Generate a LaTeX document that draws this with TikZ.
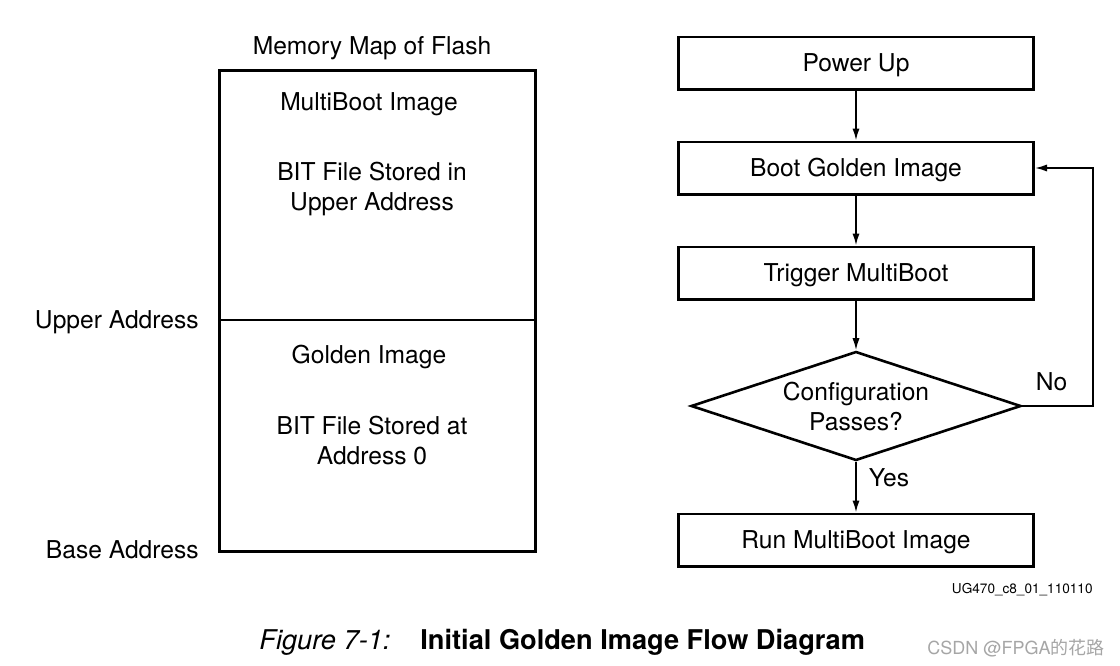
\documentclass[tikz,border=0pt]{standalone}
\usepackage{fontspec}
\setmainfont{TeX Gyre Heros}
\newfontfamily\cjkfont{Noto Sans CJK SC}
\usetikzlibrary{shapes.geometric,arrows.meta,positioning}

\begin{document}
\begin{tikzpicture}[x=0.5pt,y=-0.5pt,>={Latex[length=6pt,width=3.6pt]},
  txt/.style={font=\fontsize{12.3}{15}\selectfont, align=center, inner sep=0pt},
  blk/.style={draw, line width=1.3pt, minimum width=177.7pt, minimum height=26.2pt,
    inner sep=0pt, text height=8.8pt, text depth=0pt, font=\fontsize{12.3}{15}\selectfont},
  dec/.style={draw, diamond, aspect=3, line width=1.3pt, minimum width=165pt, minimum height=54.5pt,
    inner sep=0pt, align=center, font=\fontsize{12.3}{15}\selectfont},
  flow/.style={->, line width=0.9pt}]
\useasboundingbox (0,0) rectangle (1120,665);

% memory map of the flash
\node[txt] (maptitle) at (372,48) {Memory Map of Flash};
\node[draw, line width=1.3pt, minimum width=158.2pt, minimum height=240.7pt,
  inner sep=0pt, anchor=north west] (mem) at (218,69) {};
\coordinate (ua) at (218,320);
\draw[line width=1pt] (ua) -- (ua -| mem.east);

\node[txt] (mbimg) at (369,104) {MultiBoot Image};
\node[txt] (mbtxt) at (372,189) {BIT File Stored in\\Upper Address};
\node[txt] (gdimg) at (369,357) {Golden Image};
\node[txt] (gdtxt) at (372,440) {BIT File Stored at\\Address 0};

\node[txt, anchor=east] (upaddr) at (199,322) {Upper Address};
\node[txt, anchor=east] (baseaddr) at (199,550) {Base Address};

% flow
\node[blk] (pwr) at (856,63) {Power Up};
\node[blk] (boot) at (856,168) {Boot Golden Image};
\node[blk] (trig) at (856,273) {Trigger MultiBoot};
\node[dec] (cfg) at (856,406) {Configuration\\Passes?};
\node[blk] (run) at (856,540) {Run MultiBoot Image};
\coordinate (rgt) at (1093,0);

\draw[flow] (pwr) -- (boot);
\draw[flow] (boot) -- (trig);
\draw[flow] (trig) -- (cfg);
\draw[flow] (cfg) -- node[txt, pos=0.32, right=6pt] {Yes} (run);
\draw[flow] (cfg.east) -- node[txt, above=7pt, xshift=-3pt] {No} (cfg.east -| rgt) |- (boot.east);

% labels
\node[font=\fontsize{6.8}{8}\selectfont, inner sep=0pt, anchor=east] (ugid) at (1093,590) {UG470\_c8\_01\_110110};
\node[font=\fontsize{13.6}{16}\selectfont\itshape, inner sep=0pt, anchor=base west] (fignum) at (259,649) {Figure 7-1:};
\node[font=\fontsize{13.6}{16}\selectfont\bfseries, inner sep=0pt, anchor=base west] (figcap) at (420,649) {Initial Golden Image Flow Diagram};
\node[font=\fontsize{9}{11}\selectfont, text=gray!70, inner sep=0pt, anchor=east] (wmark) at (1105,648) {CSDN @FPGA{\cjkfont 的花路}};

\end{tikzpicture}
\end{document}
